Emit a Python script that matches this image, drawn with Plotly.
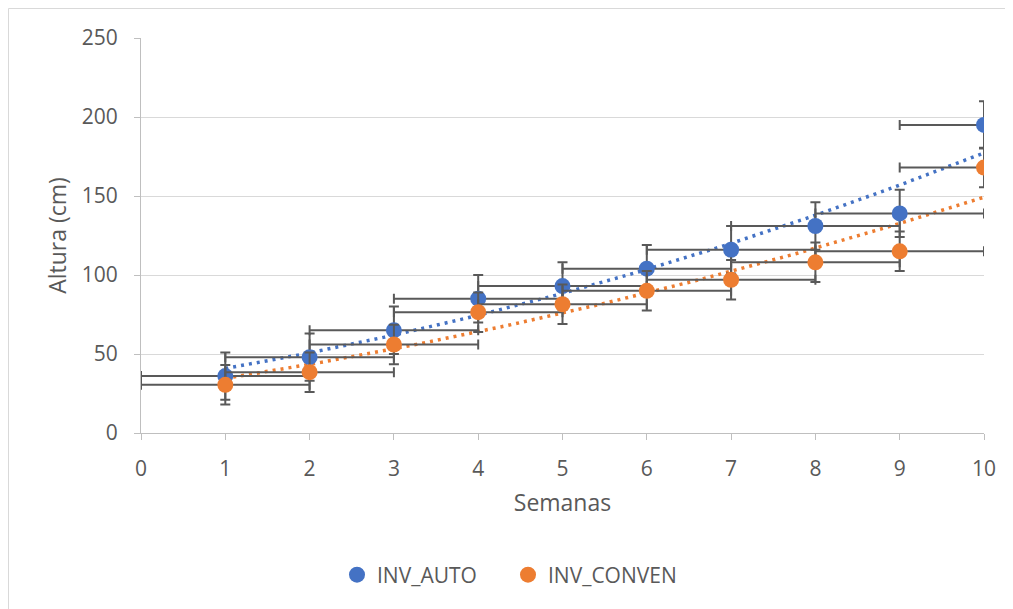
import numpy as np
import plotly.graph_objects as go

semanas = [1, 2, 3, 4, 5, 6, 7, 8, 9, 10]
inv_auto = [36, 48, 65, 85, 93, 104, 116, 131, 139, 195]
inv_conven = [30.5, 38.5, 56, 76.5, 81.5, 90, 97, 108, 115, 168]
err_auto_y = [15] * 10
err_conven_y = [12.5] * 10
err_x = [1] * 10

BLUE = "#4472C4"
ORANGE = "#ED7D31"
ERR = "#595959"
TXT = "#595959"
FONT = "Open Sans"

# figure sits at an 8px body offset in the page
W, H = 1005, 601
L, R, T, B = 133, 29, 30, 176
PW = W - L - R
PH = H - T - B

fig = go.Figure()

# polynomial (order 2) trendlines, as in the original
xs = np.linspace(1, 10, 120)
for ys, col in [(inv_auto, BLUE), (inv_conven, ORANGE)]:
    coef = np.polyfit(semanas, ys, 2)
    fig.add_trace(go.Scatter(x=xs, y=np.polyval(coef, xs), mode="lines",
                             line=dict(color=col, width=3.5, dash="3px,5px"),
                             showlegend=False, hoverinfo="skip"))

for name, ys, ey, col in [("INV_AUTO", inv_auto, err_auto_y, BLUE),
                          ("INV_CONVEN", inv_conven, err_conven_y, ORANGE)]:
    fig.add_trace(go.Scatter(
        x=semanas, y=ys, mode="markers", name=name,
        marker=dict(color=col, size=16),
        error_y=dict(type="data", array=ey, color=ERR, thickness=2, width=5),
        error_x=dict(type="data", array=err_x, color=ERR, thickness=2, width=5),
    ))

fig.update_layout(
    width=W, height=H,
    margin=dict(l=L, r=R, t=T, b=B),
    paper_bgcolor="white", plot_bgcolor="white",
    font=dict(family=FONT, color=TXT, size=21),
    showlegend=True,
    legend=dict(orientation="h", x=(337 - 8 - L) / PW, xanchor="left",
                y=(PH - 567 + T) / PH, yanchor="middle",
                font=dict(size=21, color=TXT), itemwidth=30, entrywidth=126,
                tracegroupgap=0),
    xaxis=dict(range=[0, 10], dtick=1, showgrid=False, zeroline=False,
               showline=True, linecolor="#BFBFBF", linewidth=1,
               ticks="outside", ticklen=6, tickcolor="#BFBFBF",
               ticklabelstandoff=11,
               tickfont=dict(size=21, color=TXT),
               title=dict(text="Semanas", font=dict(size=23, color=TXT), standoff=13)),
    yaxis=dict(range=[0, 250], dtick=50, showgrid=True, gridcolor="#D9D9D9", gridwidth=1,
               zeroline=False, showline=True, linecolor="#BFBFBF", linewidth=1,
               ticks="outside", ticklen=6, tickcolor="#BFBFBF",
               ticklabelstandoff=12,
               tickfont=dict(size=21, color=TXT),
               title=dict(text="Altura (cm)", font=dict(size=23, color=TXT), standoff=8)),
    shapes=[dict(type="rect", xref="paper", yref="paper",
                 x0=(0.5 - L) / PW, x1=(W + 20 - L) / PW,
                 y0=(T + PH - H - 20) / PH, y1=(T + PH - 0.5) / PH,
                 line=dict(color="#D9D9D9", width=1), fillcolor="rgba(0,0,0,0)", layer="below")],
)

fig.write_html("out.html")
